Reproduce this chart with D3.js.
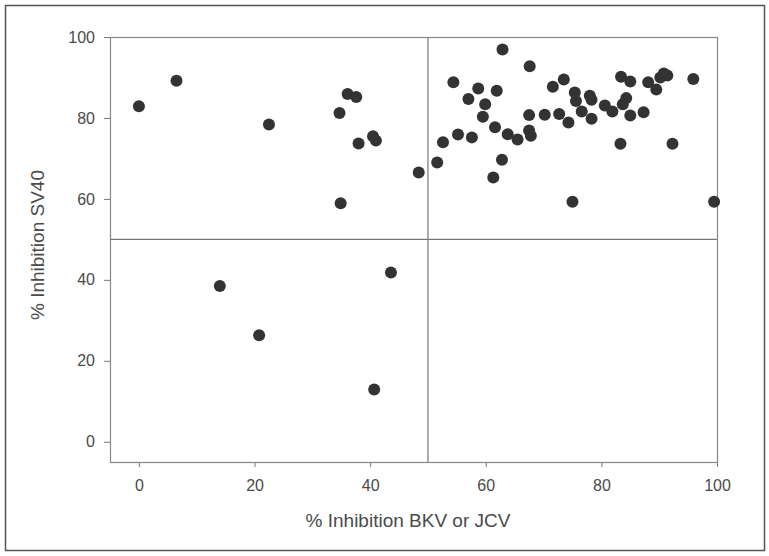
<!DOCTYPE html>
<html>
<head>
<meta charset="utf-8">
<script src="https://cdn.jsdelivr.net/npm/d3@7/dist/d3.min.js"></script>
<style>
  html, body { margin: 0; padding: 0; background: #fff; }
  svg { display: block; }
  text { font-family: "Liberation Sans", Arial, Helvetica, sans-serif; fill: #4a4a4a; }
</style>
</head>
<body>
<script>
// % inhibition BKV or JCV (x) vs % inhibition SV40 (y)
const inhibitionBKVorJCV = [
  0, 6.5, 22.5, 34.7, 36.1, 37.6, 38.0, 40.5, 41.0, 48.4, 34.9, 14.0, 20.8, 40.7, 43.6,
  51.6, 52.6, 54.4, 55.2, 57.0, 57.6, 58.7, 59.5, 59.9, 61.3, 61.6, 61.9, 62.8, 62.9,
  63.8, 65.5, 67.5, 67.5, 67.8, 67.6, 70.2, 71.6, 72.7, 74.3, 73.5, 75.0, 75.4, 75.6,
  76.6, 78.0, 78.3, 78.3, 80.6, 81.9, 83.3, 83.4, 83.7, 84.3, 85.0, 85.0, 87.3, 88.1,
  89.5, 90.2, 90.8, 91.4, 92.3, 95.9, 99.5
];
const inhibitionSV40 = [
  82.9, 89.2, 78.4, 81.2, 85.9, 85.2, 73.7, 75.5, 74.4, 66.5, 58.9, 38.5, 26.3, 12.9, 41.8,
  69.0, 74.0, 88.8, 75.9, 84.7, 75.2, 87.3, 80.3, 83.4, 65.3, 77.7, 86.7, 69.7, 96.9,
  76.0, 74.7, 80.7, 76.9, 75.6, 92.8, 80.8, 87.7, 81.0, 78.9, 89.5, 59.3, 86.3, 84.2,
  81.6, 85.5, 84.5, 79.8, 83.1, 81.6, 73.6, 90.2, 83.4, 84.9, 89.0, 80.6, 81.4, 88.8,
  87.0, 90.0, 91.0, 90.5, 73.6, 89.6, 59.3
];
const xTicks = [0, 20, 40, 60, 80, 100];
const yTicks = [0, 20, 40, 60, 80, 100];
const threshold = 50;
const xLabel = "% Inhibition BKV or JCV";
const yLabel = "% Inhibition SV40";

const W = 769, H = 556;
const plot = { left: 110, right: 717, top: 37, bottom: 462 };

const svg = d3.select("body").append("svg").attr("width", W).attr("height", H);

// outer frame
svg.append("rect").attr("x", 5.5).attr("y", 5.5).attr("width", 759).attr("height", 545)
  .attr("fill", "none").attr("stroke", "#555").attr("stroke-width", 1.5);

const x = d3.scaleLinear().domain([-5, 100]).range([plot.left, plot.right]);
const y = d3.scaleLinear().domain([-5, 100]).range([plot.bottom, plot.top]);

// axes
const xAxis = svg.append("g").attr("transform", `translate(0,${plot.bottom})`)
  .call(d3.axisBottom(x).tickValues(xTicks).tickSize(5).tickSizeOuter(0).tickPadding(13));
const yAxis = svg.append("g").attr("transform", `translate(${plot.left},0)`)
  .call(d3.axisLeft(y).tickValues(yTicks).tickSize(6).tickSizeOuter(0).tickPadding(9));
[xAxis, yAxis].forEach(g => {
  g.select(".domain").remove();
  g.selectAll(".tick line").attr("stroke", "#777");
  g.selectAll(".tick text").attr("font-size", 16).style("fill", "#4a4a4a")
    .attr("font-family", "'Liberation Sans', Arial, sans-serif");
});

// plot box
svg.append("rect").attr("x", plot.left + 0.5).attr("y", plot.top + 0.5)
  .attr("width", plot.right - plot.left).attr("height", plot.bottom - plot.top)
  .attr("fill", "none").attr("stroke", "#888").attr("stroke-width", 1.2);

// quadrant lines
svg.append("line").attr("x1", x(threshold)).attr("x2", x(threshold))
  .attr("y1", plot.top).attr("y2", plot.bottom).attr("stroke", "#777").attr("stroke-width", 1.2);
svg.append("line").attr("x1", plot.left).attr("x2", plot.right)
  .attr("y1", y(threshold)).attr("y2", y(threshold)).attr("stroke", "#777").attr("stroke-width", 1.2);

// points
const pts = inhibitionBKVorJCV.map((v, i) => ({ x: v, y: inhibitionSV40[i] }));
svg.append("g").selectAll("circle").data(pts).join("circle")
  .attr("cx", d => x(d.x)).attr("cy", d => y(d.y)).attr("r", 6)
  .attr("fill", "#333");

// labels
svg.append("text").attr("x", 408).attr("y", 527)
  .attr("text-anchor", "middle").attr("font-size", 19).text(xLabel);
svg.append("text").attr("transform", `translate(44,245) rotate(-90)`)
  .attr("text-anchor", "middle").attr("font-size", 19).text(yLabel);
</script>
</body>
</html>
